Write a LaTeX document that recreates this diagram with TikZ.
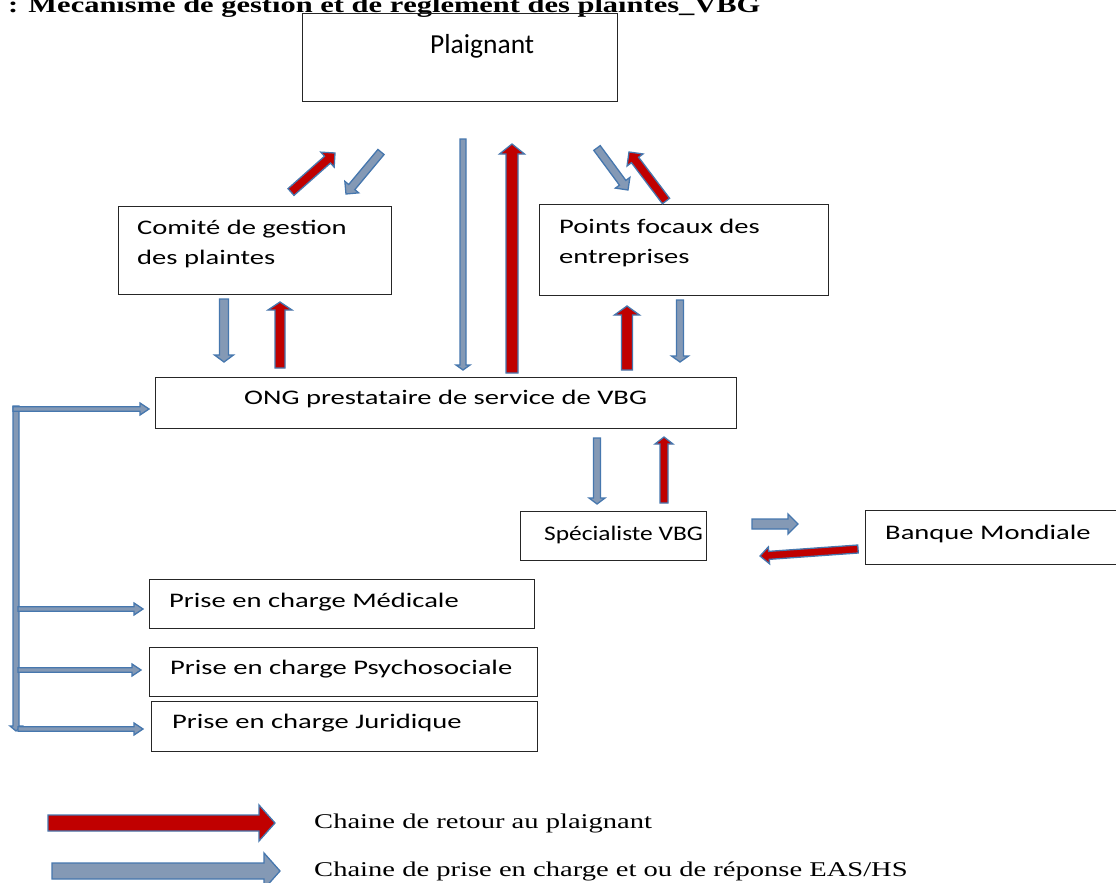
\documentclass[tikz,border=0pt]{standalone}
\usepackage{fontspec}
\usetikzlibrary{calc}
\newfontfamily\boxfont[FakeStretch=1.38]{Carlito}
\newfontfamily\plfont{Carlito}
\newfontfamily\legfont[FakeStretch=1.36]{Liberation Serif}
\definecolor{redfill}{HTML}{C00000}
\definecolor{blueline}{HTML}{4677AE}
\definecolor{bluefill}{HTML}{8499B5}
\newcommand\blockarr[6]{%
  \coordinate (ba-h) at ($(#3)!#6!(#2)$);
  \draw[arrowline, fill=#1]
    ($(#2)!#4!90:(#3)$) -- ($(ba-h)!#4!90:(#3)$) -- ($(ba-h)!#5!90:(#3)$) --
    (#3) -- ($(ba-h)!#5!-90:(#3)$) -- ($(ba-h)!#4!-90:(#3)$) --
    ($(#2)!#4!-90:(#3)$) -- cycle;
}
\tikzset{
  box/.style={draw=black!85, line width=1.1pt, anchor=north west, inner sep=0pt},
  txt/.style={anchor=base west, inner sep=0pt, font=\boxfont\fontsize{20.7}{30}\selectfont, align=left},
  arrowline/.style={draw=blueline, line width=1.3pt, line join=miter},
}
\begin{document}
\begin{tikzpicture}[x=1pt, y=-1pt]
\clip (0,0) rectangle (1116,883);
\fill[white] (0,0) rectangle (1116,883);

% title (cut at top, as in the reference)
\node[anchor=base west, inner sep=0pt, font=\legfont\bfseries\fontsize{22.4}{24}\selectfont] (title) at (8,13) {: Mécanisme de gestion et de règlement des plaintes\_VBG};

% boxes
\node[box, minimum width=315pt, minimum height=88pt] (plaignant) at (302,13) {};
\node[anchor=base west, inner sep=0pt, font=\plfont\fontsize{27.5}{30}\selectfont] (tpl) at (430,53) {Plaignant};

\node[box, minimum width=273pt, minimum height=88pt] (comite) at (118,206) {};
\node[txt] (tcom) at (137,264) {Comité de gestion\\des plaintes};

\node[box, minimum width=289pt, minimum height=91pt] (points) at (539,204) {};
\node[txt] (tpts) at (559,263) {Points focaux des\\entreprises};

\node[box, minimum width=581pt, minimum height=51pt] (ong) at (155,377) {};
\node[txt] (tong) at (244,404) {ONG prestataire de service de VBG};

\node[box, minimum width=186pt, minimum height=49pt] (spec) at (520,511) {};
\node[txt] (tspec) at (544,540) {\scalebox{0.89}[1]{Spécialiste VBG}};

\node[box, minimum width=260pt, minimum height=54pt] (banque) at (865,510) {};
\node[txt] (tbq) at (885,539) {Banque Mondiale};

\node[box, minimum width=385pt, minimum height=49pt] (med) at (149,579) {};
\node[txt] (tmed) at (169,607) {Prise en charge Médicale};

\node[box, minimum width=388pt, minimum height=49pt] (psy) at (149,647) {};
\node[txt] (tpsy) at (170,674) {Prise en charge Psychosociale};

\node[box, minimum width=386pt, minimum height=50pt] (jur) at (151,701) {};
\node[txt] (tjur) at (172,728) {Prise en charge Juridique};

% arrow end points
\coordinate (a1s) at (291,192); \coordinate (a1e) at (335,153);
\coordinate (a2s) at (381,152); \coordinate (a2e) at (346,194);
\coordinate (a3s) at (463,139); \coordinate (a3e) at (463,370);
\coordinate (a4s) at (512,373); \coordinate (a4e) at (512,144);
\coordinate (a5s) at (597,148); \coordinate (a5e) at (628,190);
\coordinate (a6s) at (666,201); \coordinate (a6e) at (629,152);
\coordinate (a7s) at (224,299); \coordinate (a7e) at (224,362);
\coordinate (a8s) at (280,368); \coordinate (a8e) at (280,302);
\coordinate (a9s) at (627,370); \coordinate (a9e) at (627,306);
\coordinate (a10s) at (680,300); \coordinate (a10e) at (680,362);
\coordinate (a11s) at (597,438); \coordinate (a11e) at (597,504);
\coordinate (a12s) at (664,503); \coordinate (a12e) at (664,437);
\coordinate (a13s) at (752,524); \coordinate (a13e) at (798,524);
\coordinate (a14s) at (858,549); \coordinate (a14e) at (760,556);
% bracket
\coordinate (b0s) at (16,406); \coordinate (b0e) at (16,731);
\coordinate (b1s) at (13,409); \coordinate (b1e) at (149,409);
\coordinate (b2s) at (18,609); \coordinate (b2e) at (143,609);
\coordinate (b3s) at (18,670); \coordinate (b3e) at (141,670);
\coordinate (b4s) at (18,729); \coordinate (b4e) at (143,729);
% legend
\coordinate (l1s) at (48,823); \coordinate (l1e) at (275,823);
\coordinate (l2s) at (52,871); \coordinate (l2e) at (280,871);

% arrows
\blockarr{redfill}{a1s}{a1e}{4.5pt}{10pt}{10pt}
\blockarr{bluefill}{a2s}{a2e}{4pt}{9pt}{9pt}
\blockarr{bluefill}{a3s}{a3e}{3pt}{7pt}{5pt}
\blockarr{redfill}{a4s}{a4e}{6pt}{12.5pt}{10pt}
\blockarr{bluefill}{a5s}{a5e}{4pt}{9pt}{9pt}
\blockarr{redfill}{a6s}{a6e}{4.5pt}{10pt}{10pt}
\blockarr{bluefill}{a7s}{a7e}{4.5pt}{9.5pt}{7pt}
\blockarr{redfill}{a8s}{a8e}{5pt}{12pt}{8pt}
\blockarr{redfill}{a9s}{a9e}{5.5pt}{12.5pt}{9pt}
\blockarr{bluefill}{a10s}{a10e}{3.5pt}{8.5pt}{6pt}
\blockarr{bluefill}{a11s}{a11e}{3.5pt}{8pt}{6pt}
\blockarr{redfill}{a12s}{a12e}{4pt}{9pt}{7pt}
\blockarr{bluefill}{a13s}{a13e}{5pt}{10pt}{10pt}
\blockarr{redfill}{a14s}{a14e}{4pt}{8.5pt}{9pt}

\blockarr{bluefill}{b0s}{b0e}{3pt}{6pt}{5pt}
\blockarr{bluefill}{b1s}{b1e}{2.3pt}{6pt}{9pt}
\blockarr{bluefill}{b2s}{b2e}{2.3pt}{6pt}{9pt}
\blockarr{bluefill}{b3s}{b3e}{2.3pt}{6pt}{9pt}
\blockarr{bluefill}{b4s}{b4e}{2.3pt}{6pt}{9pt}

\blockarr{redfill}{l1s}{l1e}{8pt}{18pt}{16pt}
\blockarr{bluefill}{l2s}{l2e}{8pt}{18pt}{16pt}

% legend text
\node[anchor=base west, inner sep=0pt, font=\legfont\fontsize{21}{24}\selectfont] (leg1) at (314,828) {Chaine de retour au plaignant};
\node[anchor=base west, inner sep=0pt, font=\legfont\fontsize{21}{24}\selectfont] (leg2) at (314,876) {Chaine de prise en charge et ou de réponse EAS/HS};
\end{tikzpicture}
\end{document}
